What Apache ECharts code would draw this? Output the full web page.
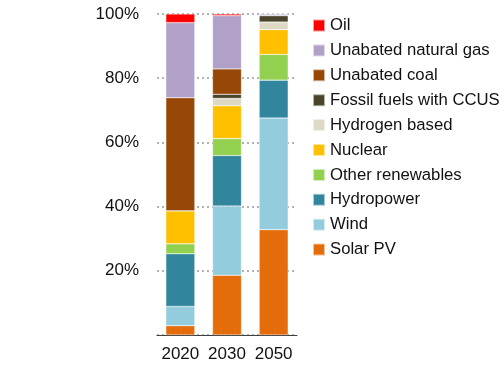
<!DOCTYPE html>
<html>
<head>
<meta charset="utf-8">
<script src="https://cdn.jsdelivr.net/npm/echarts@6/dist/echarts.min.js"></script>
<style>html,body{margin:0;padding:0;background:#fff;}#c{width:504px;height:370px;}</style>
</head>
<body>
<div id="c"></div>
<script>
const categories = ['2020', '2030', '2050'];
const seriesNames = ['Solar PV', 'Wind', 'Hydropower', 'Other renewables', 'Nuclear', 'Hydrogen based', 'Fossil fuels with CCUS', 'Unabated coal', 'Unabated natural gas', 'Oil'];
const solarPV = [2.9, 18.6, 32.8];
const wind = [6.0, 21.6, 34.8];
const hydropower = [16.4, 15.7, 11.8];
const otherRenewables = [3.1, 5.3, 8.0];
const nuclear = [10.3, 10.2, 7.7];
const hydrogenBased = [0, 2.3, 2.4];
const fossilCCUS = [0, 1.3, 2.0];
const unabatedCoal = [35.2, 7.9, 0];
const unabatedGas = [23.4, 16.6, 0.5];
const oil = [2.7, 0.5, 0];
const colors = ['#E46C0A', '#93CDDD', '#31859C', '#92D050', '#FFC000', '#DDD9C4', '#4A452A', '#974706', '#B1A0C7', '#FF0000'];
const yTicks = [0, 20, 40, 60, 80, 100];

const values = [solarPV, wind, hydropower, otherRenewables, nuclear, hydrogenBased, fossilCCUS, unabatedCoal, unabatedGas, oil];
const font = 'Liberation Sans';
const chart = echarts.init(document.getElementById('c'));
chart.setOption({
  animation: false,
  grid: { left: 157, right: 207, top: 14, bottom: 35 },
  legend: {
    orient: 'vertical',
    left: 307,
    top: 12,
    padding: 5,
    itemWidth: 12,
    itemHeight: 12,
    itemGap: 7.9,
    icon: 'rect',
    data: seriesNames.slice().reverse(),
    textStyle: { fontFamily: font, fontSize: 16.7, color: '#111', lineHeight: 17 }
  },
  xAxis: {
    type: 'category',
    data: categories,
    axisTick: { show: false },
    axisLine: { lineStyle: { color: '#404040', width: 1 } },
    axisLabel: { fontFamily: font, fontSize: 17, color: '#111', margin: 11, interval: 0 }
  },
  yAxis: {
    type: 'value',
    min: yTicks[0],
    max: yTicks[yTicks.length - 1],
    interval: 20,
    axisLine: { show: false },
    axisTick: { show: false },
    axisLabel: {
      fontFamily: font, fontSize: 17, color: '#111', margin: 18,
      formatter: v => v === 0 ? '' : v + '%'
    },
    splitLine: { lineStyle: { color: '#9a9a9a', width: 1.5, type: [2, 3] } }
  },
  series: seriesNames.map((n, i) => ({
    name: n,
    type: 'bar',
    stack: 'total',
    barWidth: 29,
    data: values[i],
    itemStyle: { color: colors[i], borderColor: 'rgba(255,255,255,0.6)', borderWidth: 0.5 }
  }))
});
</script>
</body>
</html>
